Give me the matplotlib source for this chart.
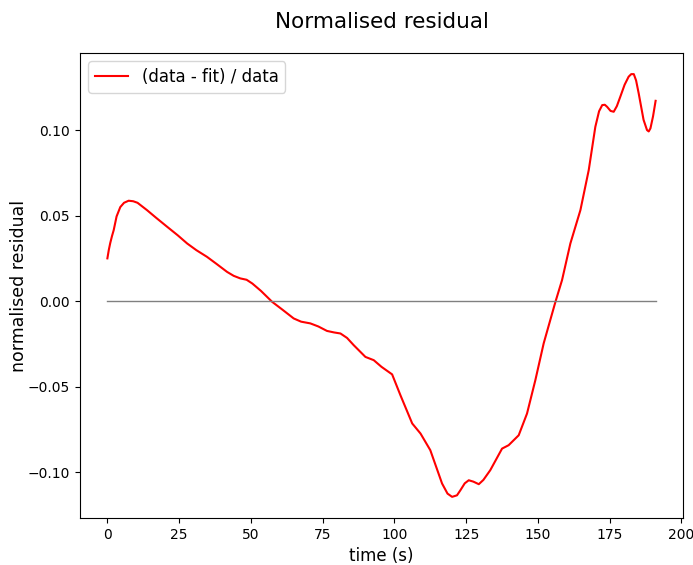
import matplotlib
matplotlib.use("Agg")
import matplotlib.pyplot as plt

# values
time_s = [0, 0.5, 1.0, 1.6, 2.2, 3.2, 4.5, 5.8, 7.4, 9.0, 10.5, 13.8, 17.0, 20.8,
          24.5, 27.8, 31.0, 34.7, 38.0, 41.7, 44.0, 46.3, 48.5, 50.5, 53.5,
          57.4, 61.0, 64.9, 67.5, 70.7, 73.5, 76.5, 79.0, 81.2, 83.5, 85.8,
          89.9, 92.8, 95.5, 99.2, 102.1, 106.2, 109.1, 112.5, 116.6, 118.5,
          120.1, 121.8, 123.0, 124.5, 125.9, 127.5, 129.4, 131.0, 133.4,
          137.5, 139.8, 143.3, 146.2, 149.1, 152.0, 156.1, 158.4, 161.3,
          164.8, 167.7, 170.0, 171.3, 172.4, 173.3, 174.1, 175.3, 176.4,
          177.5, 178.7, 180.2, 181.6, 182.5, 183.4, 184.2, 185.1, 186.8,
          188.0, 188.6, 189.2, 190.1, 191.0]
residual = [0.025, 0.030, 0.034, 0.038, 0.0415, 0.0495, 0.055, 0.0575, 0.0587,
            0.0584, 0.0575, 0.0532, 0.0487, 0.0435, 0.0385, 0.0337, 0.0298,
            0.0259, 0.0218, 0.0171, 0.0148, 0.0133, 0.0125, 0.0103, 0.006,
            -0.0004, -0.005, -0.0101, -0.012, -0.013, -0.0148, -0.0174,
            -0.0183, -0.0189, -0.0215, -0.0257, -0.0326, -0.0345, -0.0384,
            -0.0428, -0.055, -0.0715, -0.0774, -0.0871, -0.1066, -0.1125,
            -0.1144, -0.1135, -0.1105, -0.1065, -0.1047, -0.1055, -0.107,
            -0.1045, -0.0988, -0.0862, -0.0842, -0.0784, -0.0657, -0.0462,
            -0.0247, -0.0004, 0.0123, 0.0337, 0.0532, 0.0766, 0.1019,
            0.1110, 0.1146, 0.1148, 0.1136, 0.1112, 0.1107, 0.1140, 0.1195,
            0.1265, 0.1312, 0.1327, 0.1327, 0.1290, 0.1215, 0.1060, 0.1000,
            0.0992, 0.1010, 0.1080, 0.1171]

fig = plt.figure(figsize=(6.93, 5.65), dpi=100)
ax = fig.add_axes([0.1154, 0.0832, 0.8702, 0.823])

ax.plot(time_s, residual, color="red", lw=1.5, label="(data - fit) / data")
ax.plot([time_s[0], time_s[-1]], [0, 0], color="grey", lw=1)

ax.set_title("Normalised residual", fontsize=15.5, pad=18)
ax.set_xlabel("time (s)", fontsize=12)
ax.set_ylabel("normalised residual", fontsize=12.5, labelpad=0)
ax.legend(loc="upper left", fontsize=12)

fig.savefig("out.png", dpi=100)
